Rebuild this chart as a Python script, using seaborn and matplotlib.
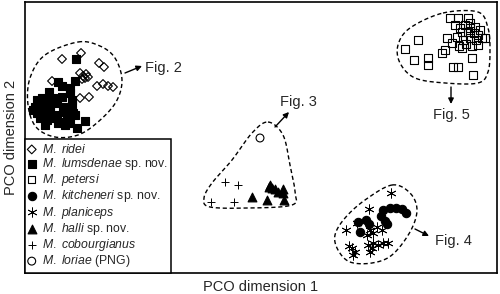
import numpy as np
import pandas as pd
import matplotlib
matplotlib.use("Agg")
import matplotlib.pyplot as plt
import seaborn as sns

# PCO scores (chart units, y grows downward like the original figure)
ridei_x = [62, 81, 99, 104, 80, 83, 86, 82, 85, 88, 52, 97, 103, 108, 113, 80, 89]
ridei_y = [59, 53, 63, 67, 73, 76, 74, 79, 78, 77, 81, 86, 84, 86, 87, 98, 97]

lumsdenae_x = [76, 58, 62, 75, 70, 49, 37, 42, 47, 53, 62, 70, 72, 35, 40, 45, 50, 57, 63, 72,
               37, 43, 50, 57, 65, 73, 40, 47, 53, 60, 67, 75, 85, 65, 77, 58, 70, 33, 45]
lumsdenae_y = [59, 82, 86, 81, 88, 92, 100, 98, 100, 98, 97, 93, 100, 107, 105, 108, 105, 103, 107, 105,
               113, 113, 112, 115, 112, 113, 118, 120, 118, 122, 118, 115, 121, 125, 128, 123, 123, 110, 125]

petersi_x = [405, 418, 414, 428, 428, 442, 445, 450, 458, 468, 447, 485, 472, 453, 458, 473, 462,
             455, 460, 465, 470, 475, 462, 468, 474, 480, 457, 463, 470, 476, 482, 452, 459, 466, 472, 478, 470, 478]
petersi_y = [49, 40, 60, 58, 65, 53, 50, 18, 18, 18, 38, 38, 58, 67, 67, 75, 48,
             25, 28, 25, 23, 27, 32, 32, 33, 30, 37, 40, 38, 40, 38, 43, 46, 44, 46, 45, 28, 35]

kitcheneri_x = [383, 390, 396, 402, 406, 381, 385, 387, 358, 366, 369, 360]
kitcheneri_y = [210, 208, 208, 209, 213, 216, 221, 224, 222, 220, 224, 232]

planiceps_x = [391, 369, 346, 357, 370, 377, 382, 367, 373, 352, 355, 353, 368, 372, 373, 378, 383, 388, 370, 349]
planiceps_y = [193, 209, 230, 223, 230, 227, 230, 235, 233, 248, 252, 255, 245, 248, 243, 245, 243, 243, 252, 246]

halli_x = [252, 267, 269, 272, 275, 283, 283, 284, 270, 278]
halli_y = [197, 200, 187, 188, 189, 189, 193, 200, 185, 192]

cobourgianus_x = [225, 238, 211, 234]
cobourgianus_y = [182, 185, 202, 202]

loriae_x = [260]
loriae_y = [138]

# hand-drawn envelopes around the groups
env2_x = [78, 100, 115, 122, 116, 98, 78, 55, 36, 28, 30, 45]
env2_y = [42, 46, 58, 80, 102, 122, 135, 137, 127, 105, 78, 55]
env3_x = [268, 283, 290, 295, 292, 250, 210, 204, 212, 232, 252]
env3_y = [122, 135, 165, 192, 205, 208, 207, 198, 183, 160, 133]
env4_x = [392, 410, 417, 410, 392, 372, 350, 338, 335, 345, 365]
env4_y = [185, 193, 210, 232, 255, 263, 262, 250, 235, 218, 200]
env5_x = [443, 478, 488, 490, 488, 478, 445, 415, 400, 398, 410]
env5_y = [13, 12, 28, 50, 72, 83, 83, 78, 63, 45, 28]

fig_labels = ["Fig. 2", "Fig. 3", "Fig. 4", "Fig. 5"]
label_x = [145, 280, 435, 433]
label_y = [68, 102, 241, 115]
arrow_tail = [(125, 73), (275, 127), (415, 229), (451, 87)]
arrow_head = [(142, 66), (289, 112), (429, 236), (451, 104)]

groups = [
    ("ridei", ridei_x, ridei_y, r"$\mathit{M.\ ridei}$", "D", 20, "none", 0.8),
    ("lumsdenae", lumsdenae_x, lumsdenae_y, r"$\mathit{M.\ lumsdenae}$ sp. nov.", "s", 26, "black", 0.8),
    ("petersi", petersi_x, petersi_y, r"$\mathit{M.\ petersi}$", "s", 26, "none", 0.8),
    ("kitcheneri", kitcheneri_x, kitcheneri_y, r"$\mathit{M.\ kitcheneri}$ sp. nov.", "o", 36, "black", 0.8),
    ("planiceps", planiceps_x, planiceps_y, r"$\mathit{M.\ planiceps}$", (6, 2, 0), 45, None, 0.6),
    ("halli", halli_x, halli_y, r"$\mathit{M.\ halli}$ sp. nov.", "^", 40, "black", 0.8),
    ("cobourgianus", cobourgianus_x, cobourgianus_y, r"$\mathit{M.\ cobourgianus}$", "+", 40, None, 0.7),
    ("loriae", loriae_x, loriae_y, r"$\mathit{M.\ loriae}$ (PNG)", "o", 32, "none", 0.8),
]

df = pd.concat([pd.DataFrame({"x": gx, "y": gy, "species": name})
                for name, gx, gy, *_ in groups], ignore_index=True)


def closed_curve(px, py, n=30):
    # closed Catmull-Rom spline through the control points
    P = np.column_stack([px, py]).astype(float)
    N = len(P)
    t = np.linspace(0, 1, n, endpoint=False)[:, None]
    segs = []
    for i in range(N):
        p0, p1, p2, p3 = P[i - 1], P[i], P[(i + 1) % N], P[(i + 2) % N]
        segs.append(0.5 * (2 * p1 + (-p0 + p2) * t + (2 * p0 - 5 * p1 + 4 * p2 - p3) * t ** 2
                           + (-p0 + 3 * p1 - 3 * p2 + p3) * t ** 3))
    pts = np.vstack(segs + [segs[0][:1]])
    return pts[:, 0], pts[:, 1]


sns.set_style("white")
plt.rcParams["font.family"] = ["Liberation Sans", "DejaVu Sans"]
plt.rcParams["mathtext.fontset"] = "custom"
plt.rcParams["mathtext.it"] = "Liberation Sans:italic"
plt.rcParams["mathtext.rm"] = "Liberation Sans"

fig = plt.figure(figsize=(5, 2.94), dpi=100)
ax = fig.add_axes([25 / 500, 1 - 273 / 294, 472 / 500, 271 / 294])

for name, gx, gy, label, marker, size, fc, lw in groups:
    sub = df[df.species == name]
    kw = dict(color="black", linewidth=lw)
    if fc is not None:
        kw["facecolor"] = fc
        kw["edgecolor"] = "black"
    sns.scatterplot(data=sub, x="x", y="y", marker=marker, s=size, ax=ax, label=label, zorder=3, **kw)

for ex, ey in [(env2_x, env2_y), (env3_x, env3_y), (env4_x, env4_y), (env5_x, env5_y)]:
    cx, cy = closed_curve(ex, ey)
    ax.plot(cx, cy, color="black", lw=1, linestyle=(0, (3, 2)))

for txt, tx, ty, tail, head in zip(fig_labels, label_x, label_y, arrow_tail, arrow_head):
    ax.annotate("", xy=head, xytext=tail,
                arrowprops=dict(arrowstyle="-|>", color="black", lw=1, mutation_scale=8,
                                shrinkA=0, shrinkB=0))
    ax.text(tx, ty, txt, ha="left", va="center", fontsize=10.5)

ax.set_xlim(25, 497)
ax.set_ylim(273, 2)
ax.set_xticks([])
ax.set_yticks([])
ax.set_xlabel("PCO dimension 1", fontsize=10.5, labelpad=5)
ax.set_ylabel("PCO dimension 2", fontsize=10.5, labelpad=5)
for sp in ax.spines.values():
    sp.set_color("black")
    sp.set_linewidth(1.2)

leg = ax.legend(loc="lower left", bbox_to_anchor=(0, 0), borderaxespad=0, fontsize=8.8,
                frameon=True, fancybox=False, edgecolor="black", framealpha=1,
                handlelength=0.5, handletextpad=0.55, borderpad=0.3, labelspacing=0.02)
leg.get_frame().set_linewidth(1.1)
leg.set_zorder(5)

fig.savefig("out.png", dpi=100)
